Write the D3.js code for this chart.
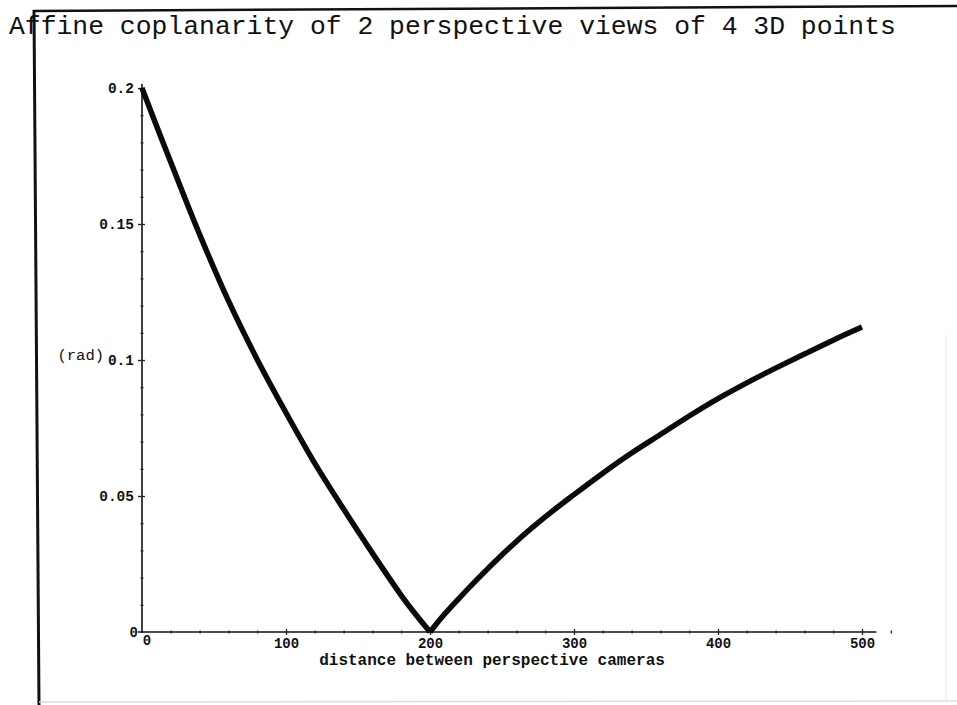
<!DOCTYPE html>
<html>
<head>
<meta charset="utf-8">
<script src="https://cdn.jsdelivr.net/npm/d3@7"></script>
<style>
  html, body { margin: 0; padding: 0; background: #fff; }
  svg { display: block; }
  .tick text { font-family: "Liberation Mono", "DejaVu Sans Mono", monospace; font-weight: bold; fill: #111; }
</style>
</head>
<body>
<svg id="chart" width="957" height="705"></svg>
<script>
// Angle between the two affine views as a function of camera separation
const distance = [0, 10, 20, 40, 60, 80, 100, 120, 140, 160, 180, 190, 200,
                  210, 220, 240, 260, 280, 300, 320, 340, 360, 380, 400, 420, 440, 460, 480, 500];
const angle    = [0.2, 0.1862, 0.1727, 0.1462, 0.1218, 0.1002, 0.0806, 0.0620, 0.0452, 0.0290, 0.0135, 0.0065, 0,
                  0.0065, 0.0123, 0.0232, 0.0333, 0.0423, 0.0505, 0.0584, 0.0658, 0.0726, 0.0794, 0.0858, 0.0916, 0.0970, 0.1022, 0.1073, 0.1121];

const xTickValues = [100, 200, 300, 400, 500];
const yTickValues = [0.05, 0.1, 0.15, 0.2];
const yTickLabels = ["0.05", "0.1", "0.15", "0.2"];

const titleText = "Affine coplanarity of 2 perspective views of 4 3D points";
const xLabelText = "distance between perspective cameras";
const yLabelText = "(rad)";

const svg = d3.select("#chart");
const mono = "'Liberation Mono', 'DejaVu Sans Mono', monospace";

// page frame (slightly skewed scan edges)
svg.append("line").attr("x1", 33).attr("y1", 11).attr("x2", 957).attr("y2", 6)
  .attr("stroke", "#111").attr("stroke-width", 2.5);
svg.append("line").attr("x1", 34).attr("y1", 10).attr("x2", 39).attr("y2", 705)
  .attr("stroke", "#111").attr("stroke-width", 3);
svg.append("line").attr("x1", 39).attr("y1", 702).attr("x2", 957).attr("y2", 701)
  .attr("stroke", "#ddd").attr("stroke-width", 1.5);
svg.append("line").attr("x1", 946).attr("y1", 335).attr("x2", 946).attr("y2", 700)
  .attr("stroke", "#eee").attr("stroke-width", 1.5);

// title
svg.append("text").attr("x", 9).attr("y", 34)
  .attr("font-family", mono).attr("font-size", 26.4).attr("fill", "#111")
  .text(titleText);

const x = d3.scaleLinear().domain([0, 500]).range([142, 862]);
const y = d3.scaleLinear().domain([0, 0.2]).range([632, 88]);

const xMinor = d3.range(0, 521, 20).filter(v => v % 100 !== 0);
const yMinor = d3.range(0.01, 0.2, 0.01).filter(v => Math.abs(v / 0.05 - Math.round(v / 0.05)) > 1e-6);

// axis lines
svg.append("line").attr("x1", x(0) - 4).attr("x2", x(510)).attr("y1", y(0)).attr("y2", y(0))
  .attr("stroke", "#111").attr("stroke-width", 1.6);
svg.append("line").attr("x1", x(0)).attr("x2", x(0)).attr("y1", y(0) + 1).attr("y2", y(0.2) - 4)
  .attr("stroke", "#111").attr("stroke-width", 1.6);

// x axis: labelled major ticks below, short marks above, minor marks
const gx = svg.append("g").attr("transform", `translate(0,${y(0)})`);
gx.append("g").call(d3.axisBottom(x).tickValues(xTickValues).tickSize(3).tickSizeOuter(0).tickPadding(3))
  .call(g => g.select(".domain").remove())
  .call(g => g.selectAll("text").attr("font-size", 14));
gx.append("g").call(d3.axisBottom(x).tickValues(xTickValues).tickSize(-3).tickSizeOuter(0).tickFormat(""))
  .call(g => g.select(".domain").remove());
gx.append("g").call(d3.axisBottom(x).tickValues(xMinor).tickSize(1.5).tickSizeOuter(0).tickFormat(""))
  .call(g => g.select(".domain").remove());
gx.append("g").call(d3.axisBottom(x).tickValues(xMinor).tickSize(-1.5).tickSizeOuter(0).tickFormat(""))
  .call(g => g.select(".domain").remove());

// y axis
const gy = svg.append("g").attr("transform", `translate(${x(0)},0)`);
gy.append("g").call(d3.axisLeft(y).tickValues(yTickValues).tickSize(4).tickSizeOuter(0).tickPadding(4)
    .tickFormat((d, i) => yTickLabels[i]))
  .call(g => g.select(".domain").remove())
  .call(g => g.selectAll("text").attr("font-size", 14.5));
gy.append("g").call(d3.axisLeft(y).tickValues(yTickValues).tickSize(-3).tickSizeOuter(0).tickFormat(""))
  .call(g => g.select(".domain").remove());
gy.append("g").call(d3.axisLeft(y).tickValues(yMinor).tickSize(1.5).tickSizeOuter(0).tickFormat(""))
  .call(g => g.select(".domain").remove());
gy.append("g").call(d3.axisLeft(y).tickValues(yMinor).tickSize(-1.5).tickSizeOuter(0).tickFormat(""))
  .call(g => g.select(".domain").remove());
svg.selectAll(".tick line").attr("stroke", "#222").attr("stroke-width", 1.3);

// origin labels
svg.append("text").attr("x", x(0) - 4).attr("y", y(0) + 5).attr("text-anchor", "end")
  .attr("font-family", mono).attr("font-weight", "bold").attr("font-size", 14).attr("fill", "#111").text("0");
svg.append("text").attr("x", x(0) + 5).attr("y", y(0) + 13).attr("text-anchor", "middle")
  .attr("font-family", mono).attr("font-weight", "bold").attr("font-size", 14).attr("fill", "#111").text("0");

// axis labels
svg.append("text").attr("x", 492).attr("y", 665).attr("text-anchor", "middle")
  .attr("font-family", mono).attr("font-weight", "bold").attr("font-size", 16).attr("fill", "#111")
  .text(xLabelText);
svg.append("text").attr("x", 104).attr("y", 360).attr("text-anchor", "end")
  .attr("font-family", mono).attr("font-size", 15.5).attr("fill", "#111")
  .text(yLabelText);

// curve: two smooth branches meeting in a sharp minimum
const iMin = angle.indexOf(d3.min(angle));
const pts = distance.map((d, i) => [d, angle[i]]);
const branches = [pts.slice(0, iMin + 1), pts.slice(iMin)];
const line = d3.line().x(d => x(d[0])).y(d => y(d[1])).curve(d3.curveCatmullRom.alpha(0.5));
svg.selectAll("path.curve").data(branches).join("path").attr("class", "curve")
  .attr("d", line)
  .attr("fill", "none").attr("stroke", "#0a0a0a").attr("stroke-width", 5.5)
  .attr("stroke-linejoin", "miter").attr("stroke-linecap", "butt");
</script>
</body>
</html>
